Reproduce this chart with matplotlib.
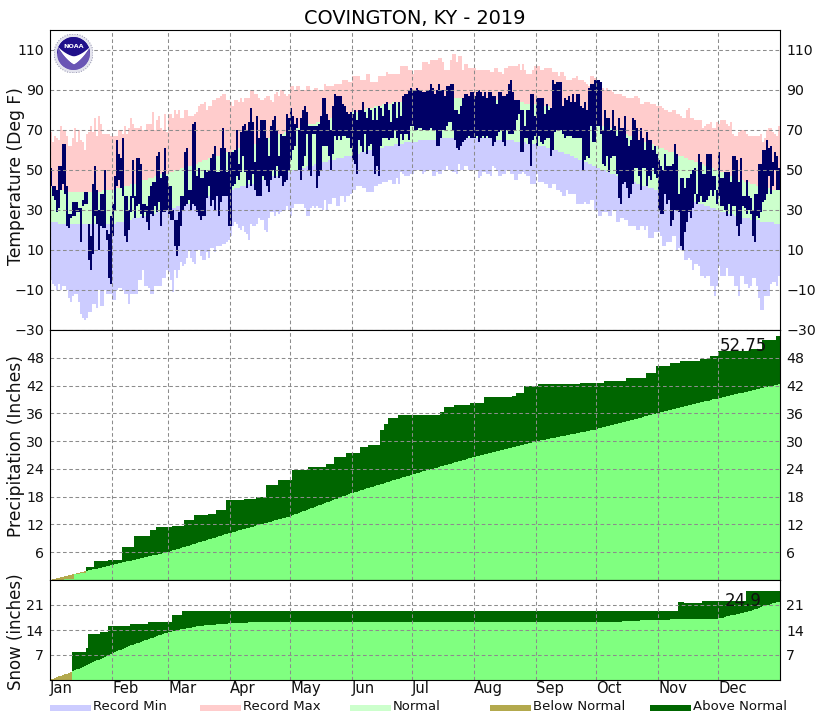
import numpy as np
import matplotlib
matplotlib.use("Agg")
import matplotlib.pyplot as plt
from matplotlib.patches import Circle, Wedge, Rectangle

MONTHS = ["Jan", "Feb", "Mar", "Apr", "May", "Jun", "Jul", "Aug", "Sep", "Oct", "Nov", "Dec"]
MONTH_START = [0, 31, 59, 90, 120, 151, 181, 212, 243, 273, 304, 334]

OBS_HIGH = [
    51,42,42,40,52,52,63,63,42,28,28,34,34,34,31,31,35,39,39,23,17,43,52,40,30,38,38,50,20,18,27,
    33,47,65,58,56,66,37,37,30,37,55,37,56,56,53,33,33,32,37,42,44,44,57,59,46,49,61,47,
    42,42,30,25,25,29,37,37,59,61,40,40,73,74,47,51,46,46,50,49,50,56,58,62,49,49,61,71,61,49,59,
    59,59,60,70,53,69,72,73,70,74,81,74,54,77,66,75,75,75,66,57,72,75,77,70,57,68,67,67,78,76,
    81,77,73,76,70,76,80,82,79,72,72,72,72,72,73,77,86,86,78,75,70,82,88,87,87,87,83,82,79,78,79,
    78,80,75,80,80,84,79,76,81,80,75,81,75,82,81,77,83,84,80,74,83,84,76,84,77,87,88,88,90,91,
    90,90,91,90,90,89,89,90,90,93,91,88,90,93,90,90,87,92,92,93,93,80,80,78,82,86,88,88,87,89,89,
    87,89,90,89,87,89,86,89,89,87,87,83,89,89,87,87,88,93,95,89,85,85,85,80,80,72,80,80,88,88,77,
    86,86,86,86,78,83,80,81,95,93,94,94,94,82,86,85,87,84,88,84,88,88,82,81,84,80,91,93,93,95,
    95,95,94,70,80,76,76,70,80,72,67,76,71,71,77,66,62,65,76,75,71,65,71,66,60,69,65,65,60,62,58,
    55,52,50,58,52,52,52,53,63,58,38,46,46,41,46,46,48,50,51,38,58,54,48,48,58,58,58,47,47,40,
    59,46,46,49,49,49,44,57,57,55,44,56,37,37,45,37,36,30,38,38,53,53,60,60,65,61,62,54,59,57,51,
]
OBS_LOW = [
    42,37,35,29,31,40,43,38,22,21,26,27,27,29,29,14,32,33,33,5,0,8,27,23,10,22,21,21,15,-4,-7,
    17,30,42,45,41,37,17,14,20,29,36,26,32,33,28,26,29,24,20,28,27,32,29,34,22,29,29,30,
    28,25,25,12,7,12,22,30,32,33,35,30,33,32,29,27,25,27,27,36,42,32,35,30,37,27,34,37,37,37,22,
    22,42,43,47,45,49,57,49,41,45,42,48,40,37,37,37,47,45,42,39,45,50,46,52,46,47,42,44,45,50,
    55,60,62,71,50,45,52,57,68,50,47,68,68,41,47,50,62,62,62,57,50,58,67,65,67,65,67,67,66,66,61,
    55,53,48,65,62,59,68,58,62,63,57,48,52,47,62,66,66,66,65,66,66,70,66,62,68,65,68,68,65,72,
    72,70,70,71,71,70,70,70,70,71,70,70,62,62,66,70,70,72,74,74,70,65,61,60,62,64,65,66,67,66,66,
    66,67,64,66,67,66,67,66,66,62,64,67,69,70,64,62,70,68,68,68,70,75,78,59,59,66,66,63,52,65,67,
    62,67,64,63,65,66,66,57,60,69,70,70,70,68,66,67,67,67,66,66,66,66,66,50,55,57,56,72,64,64,
    72,72,68,53,52,57,49,56,57,57,48,36,33,43,44,41,36,38,43,51,51,47,40,51,51,42,47,45,51,48,46,
    30,28,28,38,33,35,22,25,30,30,29,12,10,19,24,29,26,31,38,33,34,37,34,34,35,37,40,37,40,33,
    37,32,32,30,27,33,27,32,32,22,17,23,32,31,28,30,28,17,14,27,26,29,34,35,38,47,38,42,50,40,40,
]
RECORD_MAX = [
    69,64,67,66,65,72,70,70,67,62,62,66,71,64,70,65,64,60,68,69,72,69,76,67,77,73,68,68,68,68,67,
    67,67,67,70,70,68,72,68,71,76,73,71,71,71,72,70,70,73,73,73,79,70,75,77,71,70,78,69,
    78,78,76,80,78,80,76,76,80,80,77,77,77,78,79,82,83,83,84,80,82,82,85,85,86,86,87,88,88,85,85,
    84,82,85,85,84,86,84,86,86,86,90,90,88,88,86,85,85,86,87,87,85,84,88,89,87,90,90,88,87,88,
    92,92,90,92,92,90,90,90,92,92,90,90,91,91,90,90,90,93,92,92,92,92,93,93,93,93,95,95,95,94,94,
    97,97,97,97,95,95,95,98,98,94,94,94,94,97,97,97,97,99,98,98,98,98,98,98,102,102,102,102,100,100,
    98,100,100,100,100,104,104,104,103,105,105,105,105,106,106,104,100,100,100,105,108,108,104,107,107,100,103,103,101,101,101,
    101,100,100,100,100,100,100,100,99,99,101,101,99,99,98,101,101,102,102,102,102,102,103,100,103,100,98,98,98,100,102,
    102,102,100,100,101,101,101,101,99,99,99,97,99,99,97,95,95,95,96,96,97,95,95,95,94,93,92,97,97,96,
    95,95,94,91,90,91,90,90,89,88,88,88,88,87,87,86,86,86,86,87,87,86,83,83,84,84,84,83,83,83,82,
    82,82,81,80,80,79,79,80,80,78,78,77,76,76,80,81,76,76,75,75,75,75,71,72,73,73,74,71,71,74,
    73,75,75,75,73,72,74,68,67,67,69,70,70,70,68,67,67,67,67,67,67,68,64,66,70,71,71,69,68,67,72,
]
RECORD_MIN = [
    -5,-7,-8,-10,-7,-10,-8,-8,-10,-14,-16,-13,-12,-12,-16,-22,-24,-25,-24,-21,-21,-17,-17,-19,-10,-18,-18,-10,-12,-12,-12,
    -15,-15,-10,-9,-9,-10,-12,-12,-17,-12,-12,-12,-12,-5,-5,0,-8,-8,-9,-12,-12,-8,-8,-8,-8,-4,-4,0,
    -1,-5,-11,0,-4,0,4,2,3,6,10,6,4,3,10,10,7,5,5,9,6,11,11,9,12,12,12,13,13,14,15,
    17,22,24,23,21,20,22,19,18,15,23,22,22,23,26,25,25,20,19,26,29,29,27,29,28,29,30,30,32,30,
    27,31,33,33,33,33,33,31,27,27,31,32,31,32,31,31,30,35,30,33,33,36,36,32,32,37,37,34,37,37,38,
    40,40,42,42,42,41,41,39,39,39,39,42,42,43,43,44,44,44,45,45,43,43,46,43,49,48,47,47,47,48,
    48,50,50,50,50,48,49,50,50,50,47,47,49,48,48,50,50,52,50,50,49,49,48,53,50,50,52,52,50,50,50,
    50,50,46,47,49,49,48,48,47,52,51,50,47,47,48,48,50,50,48,48,45,45,48,48,49,48,47,47,43,43,43,
    48,44,44,44,43,43,41,41,43,43,40,40,39,37,37,40,38,38,38,38,33,33,33,33,34,33,33,35,35,30,
    30,27,27,29,29,29,27,27,30,30,24,24,26,26,25,25,22,22,22,22,20,20,22,22,20,22,16,16,16,19,19,
    19,17,12,12,14,14,14,17,17,10,11,10,10,5,5,6,5,0,3,3,2,-3,-3,-4,-3,-3,-8,-8,-13,-8,
    2,-3,-3,-3,1,-3,-3,-3,-8,-8,-13,-3,-3,-7,-7,-9,-8,-4,-4,-8,-14,-20,-20,-13,-13,-13,-7,-6,-6,-8,-3,
]
NORMAL_HIGH = [
    41,41,41,40,40,40,40,39,39,39,39,39,39,39,39,39,39,39,39,39,39,39,39,39,39,39,40,40,40,40,40,
    40,40,41,41,41,41,42,42,42,43,43,43,44,44,44,45,45,45,46,46,46,47,47,47,48,48,48,48,
    49,49,49,50,50,50,51,51,51,52,52,52,53,53,53,54,54,55,55,55,56,56,56,57,57,57,58,58,58,59,59,
    59,60,60,60,61,61,61,62,62,62,63,63,63,64,64,65,65,65,66,66,66,67,67,67,68,68,68,69,69,69,
    70,70,70,71,71,71,72,72,72,73,73,73,73,74,74,74,75,75,75,75,76,76,76,76,77,77,77,78,78,78,78,
    79,79,79,80,80,80,80,81,81,81,81,82,82,82,82,83,83,83,83,83,84,84,84,84,84,84,85,85,85,85,
    85,85,85,85,85,86,86,86,86,86,86,86,86,86,86,86,86,86,86,86,86,86,86,86,86,86,86,86,86,86,86,
    86,86,86,86,86,86,86,86,86,86,85,85,85,85,85,85,85,85,84,84,84,84,84,84,84,83,83,83,83,83,83,
    83,83,83,82,82,82,82,81,81,81,80,80,80,79,79,79,78,78,78,77,77,76,76,76,75,75,75,74,74,73,
    73,73,72,72,72,71,71,71,70,70,70,69,69,68,68,68,67,67,66,66,66,65,65,65,64,64,63,63,63,62,62,
    61,61,61,60,60,59,59,59,58,58,57,57,57,56,56,55,55,55,54,54,53,53,53,52,52,51,51,51,50,50,
    49,49,49,48,48,47,47,47,46,46,45,45,45,44,44,44,43,43,43,42,42,42,41,41,41,41,40,40,40,40,40,
]
NORMAL_LOW = [
    24,24,24,24,23,23,23,23,23,23,23,23,23,23,23,23,23,23,23,23,23,23,23,23,23,23,23,23,23,23,23,
    23,23,24,24,24,24,25,25,25,25,26,26,26,26,27,27,27,27,28,28,28,28,29,29,29,30,30,30,
    30,31,31,31,32,32,32,32,33,33,33,34,34,34,35,35,35,36,36,36,37,37,37,38,38,38,39,39,39,40,40,
    40,40,41,41,41,42,42,42,42,43,43,43,44,44,44,45,45,45,46,46,46,47,47,47,47,48,48,48,49,49,
    49,50,50,50,50,51,51,51,52,52,52,52,53,53,53,54,54,54,54,55,55,55,55,56,56,56,56,57,57,57,57,
    58,58,58,58,59,59,59,59,60,60,60,60,61,61,61,61,62,62,62,62,62,63,63,63,63,63,64,64,64,64,
    64,64,64,65,65,65,65,65,65,65,65,65,65,66,66,66,66,66,66,66,66,66,66,66,66,66,66,66,66,66,66,
    66,66,66,66,66,66,66,66,66,66,65,65,65,65,65,65,65,65,65,65,64,64,64,64,64,64,63,63,63,63,63,
    63,62,62,62,62,61,61,61,60,60,60,59,59,59,58,58,58,57,57,56,56,55,55,55,54,54,53,53,52,52,
    51,51,50,50,50,49,49,48,48,48,47,47,46,46,46,45,45,44,44,44,43,43,43,42,42,42,41,41,41,40,40,
    40,40,39,39,39,38,38,38,37,37,37,36,36,36,35,35,35,34,34,34,33,33,33,32,32,32,31,31,31,30,
    30,29,29,29,28,28,28,28,27,27,27,27,26,26,26,26,25,25,25,25,25,24,24,24,24,24,24,24,23,23,23,
]

# cumulative totals only change on wet days, so keep them as (first day, total)
PRECIP_DAYS = [0,3,7,12,15,18,22,29,36,42,50,53,61,67,72,79,83,88,97,103,108,114,121,129,138,142,148,155,159,165,
               167,169,174,195,197,202,210,217,231,233,237,244,265,277,288,298,303,310,315,325,330,334,350,356,363,365]
PRECIP_TOTAL = [0.0,0.1,0.25,1.3,1.45,2.9,4.1,4.3,7.2,9.5,10.8,11.45,11.7,12.9,14.0,14.25,15.1,17.3,17.5,18.0,20.45,21.7,23.8,24.5,25.0,26.6,
                27.4,28.65,29.15,32.4,33.8,34.9,35.6,36.2,37.3,37.9,38.15,39.45,39.8,40.3,42.0,42.3,42.5,43.05,43.55,44.8,46.2,46.8,47.2,47.65,
                48.4,49.45,49.8,51.8,52.75]
NORMAL_PRECIP = [
    .1,.2,.31,.41,.51,.62,.72,.83,.93,1.03,1.14,1.24,1.34,1.45,1.55,1.65,1.76,1.86,1.96,2.07,2.17,2.27,2.38,2.48,2.58,2.69,2.79,2.89,3.0,3.1,3.2,
    3.3,3.4,3.5,3.6,3.7,3.8,3.9,4.0,4.1,4.2,4.3,4.4,4.5,4.6,4.7,4.8,4.9,5.0,5.1,5.2,5.3,5.4,5.5,5.6,5.7,5.8,5.9,6.0,
    6.13,6.26,6.4,6.53,6.66,6.79,6.93,7.06,7.19,7.32,7.45,7.59,7.72,7.85,7.98,8.12,8.25,8.38,8.51,8.65,8.78,8.91,9.04,9.17,9.31,9.44,9.57,9.7,9.84,9.97,10.1,
    10.22,10.34,10.46,10.58,10.7,10.82,10.94,11.06,11.18,11.3,11.42,11.54,11.66,11.78,11.9,12.02,12.14,12.26,12.38,12.5,12.62,12.74,12.86,12.98,13.1,13.22,13.34,13.46,13.58,13.7,
    13.86,14.02,14.18,14.35,14.51,14.67,14.83,14.99,15.15,15.31,15.47,15.63,15.79,15.95,16.12,16.28,16.44,16.6,16.76,16.92,17.08,17.24,17.4,17.56,17.72,17.89,18.05,18.21,18.37,18.53,18.7,
    18.83,18.97,19.1,19.23,19.37,19.5,19.63,19.77,19.9,20.03,20.17,20.3,20.43,20.57,20.7,20.83,20.97,21.1,21.23,21.37,21.5,21.63,21.77,21.9,22.03,22.17,22.3,22.43,22.57,22.7,
    22.82,22.95,23.07,23.19,23.31,23.44,23.56,23.68,23.8,23.93,24.05,24.17,24.29,24.42,24.54,24.66,24.78,24.91,25.03,25.15,25.27,25.4,25.52,25.64,25.76,25.89,26.01,26.13,26.25,26.38,26.5,
    26.61,26.72,26.83,26.94,27.05,27.16,27.27,27.38,27.49,27.6,27.71,27.82,27.93,28.04,28.15,28.26,28.37,28.48,28.59,28.7,28.81,28.92,29.03,29.14,29.25,29.36,29.47,29.58,29.69,29.8,29.9,
    29.99,30.07,30.16,30.25,30.33,30.42,30.51,30.59,30.68,30.77,30.85,30.94,31.03,31.11,31.2,31.29,31.37,31.46,31.55,31.63,31.72,31.81,31.89,31.98,32.07,32.15,32.24,32.33,32.41,32.5,
    32.61,32.73,32.84,32.95,33.06,33.18,33.29,33.4,33.52,33.63,33.74,33.85,33.97,34.08,34.19,34.31,34.42,34.53,34.65,34.76,34.87,34.98,35.1,35.21,35.32,35.44,35.55,35.66,35.77,35.89,36.0,
    36.11,36.21,36.32,36.43,36.53,36.64,36.75,36.85,36.96,37.07,37.17,37.28,37.39,37.49,37.6,37.71,37.81,37.92,38.03,38.13,38.24,38.35,38.45,38.56,38.67,38.77,38.88,38.99,39.09,39.2,
    39.3,39.4,39.5,39.6,39.7,39.8,39.9,40.0,40.1,40.2,40.3,40.4,40.5,40.6,40.7,40.8,40.9,41.0,41.1,41.2,41.3,41.4,41.5,41.6,41.7,41.8,41.9,42.0,42.1,42.2,42.3,
]

SNOW_DAYS = [0,11,18,19,25,29,40,49,61,66,314,326,348,365]
SNOW_TOTAL = [0.0,7.75,8.9,12.9,13.5,15.0,15.8,16.15,18.2,19.3,21.7,22.1,24.9]
NORMAL_SNOW = (
    [.2,.4,.6,.8,1.0,1.2,1.4,1.6,1.8,2.0,2.2,2.5,2.7,3.0,3.2,3.5,3.7,4.0,4.2,4.5,4.7,5.0,5.2,5.5,5.7,6.0,6.2,6.5,6.8,7.0,7.3,
     7.5,7.8,8.0,8.3,8.5,8.8,9.0,9.3,9.5,9.7,9.9,10.1,10.3,10.5,10.7,10.9,11.1,11.3,11.5,11.7,11.9,12.1,12.3,12.5,12.7,12.9,13.1,13.3,
     13.4,13.5,13.7,13.8,13.9,14.0,14.2,14.3,14.4,14.5,14.6,14.7,14.8,14.9,15.0,15.0,15.1,15.2,15.3,15.3,15.4,15.4,15.5,15.5,15.6,15.6,15.7,15.7,15.8,15.8,15.9,
     15.9,15.9,16.0,16.0,16.0,16.1,16.1,16.1,16.1]
    + [16.2] * 184
    + [16.3,16.3,16.3,16.4,16.4,16.4,16.5,16.5,16.5,16.6,16.6,16.6,16.7,16.7,16.7,16.7,16.8,16.8,16.8,16.8,16.8,
       16.8,16.9,16.9,16.9,16.9,16.9,17.0,17.0,17.0,17.0,17.0,17.0,17.0,17.1,17.1,17.1,17.1,17.1,17.1,17.1,17.1,17.1,17.2,17.2,17.2,17.2,17.2,17.2,17.2,17.2,
       17.3,17.4,17.5,17.6,17.8,17.9,18.1,18.2,18.3,18.4,18.6,18.7,18.8,19.0,19.1,19.2,19.4,19.6,19.8,20.0,20.2,20.4,20.6,20.8,21.0,21.1,21.3,21.5,21.7,21.8,21.9]
)

TEMP_TICKS = [-30, -10, 10, 30, 50, 70, 90, 110]
PRECIP_TICKS = [6, 12, 18, 24, 30, 36, 42, 48]
SNOW_TICKS = [7, 14, 21]
LEGEND_LABELS = ["Record Min", "Record Max", "Normal", "Below Normal", "Above Normal"]

C_MIN, C_MAX, C_NORMAL = "#CCCCFF", "#FFCCCC", "#CCFFCC"
C_OBS = "#000066"
C_ABOVE, C_BELOW, C_FILL = "#006600", "#B3A94D", "#80FF80"
GRID = "#8c8c8c"

W, H = 830, 720
days = np.arange(365)


def panel(top, bottom):
    ax = fig.add_axes([50 / W, 1 - bottom / H, 730 / W, (bottom - top) / H])
    ax.set_xlim(0, 365)
    ax.set_xticks(MONTH_START)
    ax.set_xticklabels([])
    ax.tick_params(length=0, labelsize=10.2, labelright=True, pad=4.5, colors="#111111")
    ax.grid(True, color=GRID, linestyle=(0, (3.5, 2.5)), linewidth=0.75)
    ax.set_axisbelow(False)
    for s in ax.spines.values():
        s.set_linewidth(0.8)
        s.set_zorder(10)
    return ax


def bars(ax, low, high, color):
    low = np.asarray(low, dtype=float)
    ax.bar(days, np.asarray(high) - low, width=1.0, bottom=low, align="edge",
           color=color, linewidth=0, antialiased=False)


def cumulative(ax, step_days, step_totals, normal):
    obs = np.repeat(step_totals, np.diff(step_days))
    normal = np.asarray(normal)
    floor = np.minimum(obs, normal)
    bars(ax, np.zeros(365), floor, C_FILL)
    bars(ax, normal, np.maximum(obs, normal), C_ABOVE)
    bars(ax, floor, normal, C_BELOW)


fig = plt.figure(figsize=(W / 100, H / 100), dpi=100)

ax1 = panel(30, 330)
bars(ax1, RECORD_MIN, NORMAL_LOW, C_MIN)
bars(ax1, NORMAL_LOW, NORMAL_HIGH, C_NORMAL)
bars(ax1, NORMAL_HIGH, RECORD_MAX, C_MAX)
bars(ax1, OBS_LOW, OBS_HIGH, C_OBS)
ax1.set_ylim(-30, 120)
ax1.set_yticks(TEMP_TICKS)

ax2 = panel(330, 580)
cumulative(ax2, PRECIP_DAYS, PRECIP_TOTAL, NORMAL_PRECIP)
ax2.set_ylim(0, 54)
ax2.set_yticks(PRECIP_TICKS)
ax2.text(346.5, PRECIP_TOTAL[-1] - 4.1, f"{PRECIP_TOTAL[-1]:.2f}", ha="center", va="bottom", fontsize=12, color="#111111", zorder=11)

ax3 = panel(580, 680)
cumulative(ax3, SNOW_DAYS, SNOW_TOTAL, NORMAL_SNOW)
ax3.set_ylim(0, 28)
ax3.set_yticks(SNOW_TICKS)
ax3.text(346.5, SNOW_TOTAL[-1] - 5.4, f"{SNOW_TOTAL[-1]:.1f}", ha="center", va="bottom", fontsize=12, color="#111111", zorder=11)

for d, m in zip(MONTH_START, MONTHS):
    ax3.text(d, -0.4, m, ha="left", va="top", fontsize=10.6, color="#111111")

fig.text(415 / W, 1 - 18 / H, "COVINGTON, KY - 2019", ha="center", va="center", fontsize=13.9, color="black")
fig.text(16 / W, 1 - 176 / H, "Temperature (Deg F)", rotation=90, ha="center", va="center", fontsize=12.3, color="#111111")
fig.text(16 / W, 1 - 446 / H, "Precipitation (Inches)", rotation=90, ha="center", va="center", fontsize=12.3, color="#111111")
fig.text(16 / W, 1 - 632 / H, "Snow (inches)", rotation=90, ha="center", va="center", fontsize=12, color="#111111")

# legend strip under the panels
legend_x = [50, 200, 350, 490, 650]
legend_c = [C_MIN, C_MAX, C_NORMAL, C_BELOW, C_ABOVE]
for x, c, label in zip(legend_x, legend_c, LEGEND_LABELS):
    fig.add_artist(Rectangle((x / W, 1 - 711 / H), 41 / W, 6 / H, transform=fig.transFigure, color=c, linewidth=0))
    fig.text((x + 43) / W, 1 - 706 / H, label, ha="left", va="center", fontsize=9.5, color="#111111")

# NOAA badge
logo = fig.add_axes([54 / W, 1 - 73 / H, 39 / W, 39 / H])
logo.set_xlim(-1, 1)
logo.set_ylim(-1, 1)
logo.set_aspect("equal")
logo.axis("off")
logo.add_patch(Circle((0, 0), 1.0, color="#e4e4ee", linewidth=0))
logo.add_patch(Circle((0, 0), 1.0, fill=False, edgecolor="#8d8da8", linewidth=0.7, linestyle=":"))
disc = Circle((0, 0), 0.84, color="#6a55b5", linewidth=0)
logo.add_patch(disc)
top = Wedge((0, 0), 0.84, 0, 180, color="#20108a", linewidth=0)
logo.add_patch(top)
gx = np.linspace(-0.84, 0.84, 60)
upper = 0.5 * (np.abs(gx) / 0.84) ** 1.6 - 0.12
lower = upper - 0.42 * (1 - np.abs(gx) / 0.84) ** 0.8
navy_wedge = logo.fill_between(gx, upper, 0.84, color="#20108a", linewidth=0)
gull = logo.fill_between(gx, lower, upper, color="white", linewidth=0)
belly = logo.fill_between(gx, -0.84, lower, color="#6a55b5", linewidth=0)
for piece in (navy_wedge, gull, belly):
    piece.set_clip_path(disc)
logo.text(0, 0.37, "NOAA", color="white", fontsize=4.6, fontweight="bold", ha="center", va="center")

fig.savefig("out.png", dpi=100)
